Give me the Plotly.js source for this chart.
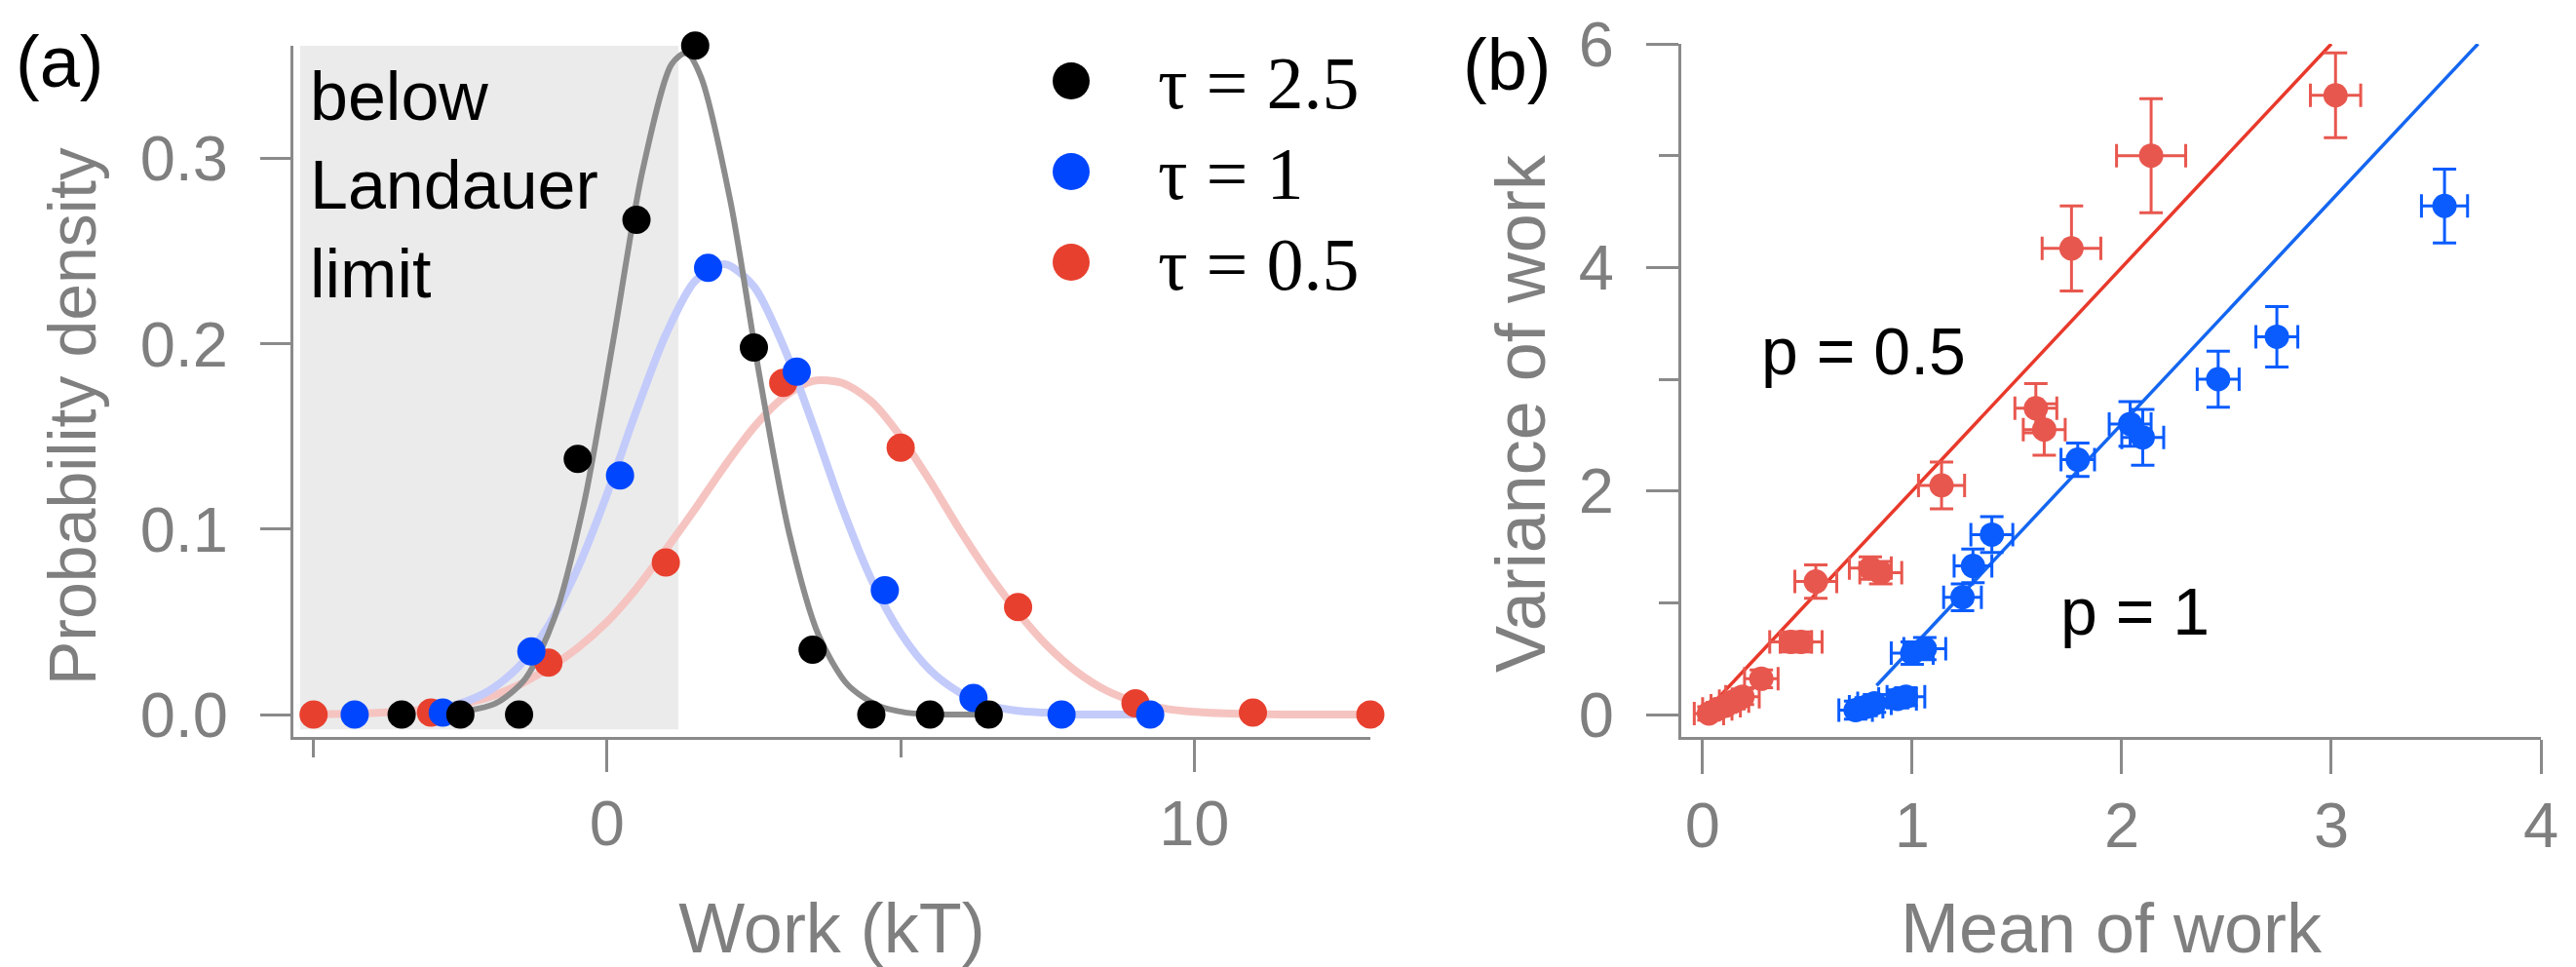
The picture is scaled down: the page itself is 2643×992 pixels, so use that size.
<!DOCTYPE html>
<html>
<head>
<meta charset="utf-8">
<script src="https://cdn.plot.ly/plotly-3.0.1.min.js"></script>
<style>html,body{margin:0;padding:0;background:#fff;}#chart{width:2643px;height:992px;}</style>
</head>
<body>
<div id="chart"></div>
<script>
// ---------- Panel (a): work distributions ----------
const blackX = [-3.5, -2.5, -1.5, -0.5, 0.5, 1.5, 2.5, 3.5, 4.5, 5.5, 6.5];
const blackY = [0, 0, 0, 0.138, 0.267, 0.361, 0.198, 0.035, 0, 0, 0];
const blueX = [-4.3, -2.8, -1.29, 0.22, 1.72, 3.23, 4.73, 6.24, 7.74, 9.25];
const blueY = [0, 0.001, 0.034, 0.129, 0.241, 0.185, 0.067, 0.009, 0, 0];
const redX = [-5, -3, -1, 1, 3, 5, 7, 9, 11, 13];
const redY = [0, 0.001, 0.028, 0.082, 0.179, 0.144, 0.058, 0.006, 0.001, 0];

const curveBlackX = [-2.4, -1.9, -1.4, -0.9, -0.4, 0.1, 0.6, 1.1, 1.35, 1.6, 2.1, 2.6, 3.1, 3.6, 4.1, 4.6, 5.1, 5.6, 6.1, 6.5];
const curveBlackY = [0.002, 0.006, 0.019, 0.052, 0.113, 0.201, 0.293, 0.351, 0.357, 0.344, 0.277, 0.182, 0.098, 0.043, 0.016, 0.005, 0.001, 0, 0, 0];
const curveBlueX = [-2.8, -2.5, -2, -1.5, -1, -0.5, 0, 0.5, 1, 1.5, 2, 2.5, 3, 3.5, 4, 4.5, 5, 5.5, 6, 6.5, 7, 7.5, 8, 8.5, 9.25];
const curveBlueY = [0.004, 0.006, 0.013, 0.026, 0.048, 0.079, 0.119, 0.164, 0.205, 0.234, 0.243, 0.231, 0.199, 0.157, 0.112, 0.073, 0.044, 0.024, 0.012, 0.005, 0.002, 0.001, 0, 0, 0];
const curveRedX = [-5, -4, -3, -2.5, -2, -1.5, -1, -0.5, 0, 0.5, 1, 1.5, 2, 2.5, 3, 3.5, 4, 4.5, 5, 5.5, 6, 6.5, 7, 7.5, 8, 8.5, 9, 9.5, 10, 10.5, 11, 12, 13];
const curveRedY = [0.0001, 0.0008, 0.003, 0.0055, 0.0095, 0.016, 0.025, 0.036, 0.05, 0.068, 0.089, 0.111, 0.134, 0.155, 0.171, 0.18, 0.179, 0.169, 0.15, 0.126, 0.1, 0.076, 0.055, 0.037, 0.023, 0.013, 0.0068, 0.0032, 0.0014, 0.0006, 0.0002, 0, 0];

const legendLabels = ["τ = 2.5", "τ = 1", "τ = 0.5"];
const landauerEdge = 1.215;

// ---------- Panel (b): variance vs mean ----------
const redMean = [0.03, 0.07, 0.11, 0.15, 0.19, 0.28, 0.42, 0.47, 0.54, 0.80, 0.85, 1.14, 1.59, 1.63, 1.76, 2.14, 3.02];
const redVar  = [0.01, 0.05, 0.08, 0.12, 0.16, 0.32, 0.65, 0.65, 1.19, 1.31, 1.27, 2.05, 2.74, 2.55, 4.17, 5.00, 5.54];
const redMeanErr = [0.07, 0.07, 0.07, 0.07, 0.08, 0.08, 0.1, 0.1, 0.1, 0.1, 0.1, 0.11, 0.1, 0.1, 0.14, 0.165, 0.12];
const redVarErr  = [0.06, 0.06, 0.06, 0.07, 0.07, 0.08, 0.09, 0.09, 0.15, 0.1, 0.1, 0.21, 0.22, 0.23, 0.38, 0.51, 0.38];

const blueMean = [0.73, 0.78, 0.82, 0.93, 0.97, 1.00, 1.06, 1.24, 1.29, 1.38, 1.79, 2.04, 2.10, 2.46, 2.74, 3.54];
const blueVar  = [0.04, 0.07, 0.10, 0.14, 0.16, 0.55, 0.59, 1.05, 1.33, 1.61, 2.28, 2.60, 2.48, 3.00, 3.38, 4.55];
const blueMeanErr = [0.08, 0.08, 0.08, 0.09, 0.09, 0.1, 0.1, 0.09, 0.09, 0.1, 0.08, 0.1, 0.1, 0.1, 0.1, 0.11];
const blueVarErr  = [0.08, 0.08, 0.08, 0.08, 0.08, 0.1, 0.1, 0.12, 0.15, 0.16, 0.15, 0.2, 0.25, 0.25, 0.27, 0.33];

const fitRedX = [0, 3.0];
const fitRedY = [0, 6.0];
const fitBlueX = [0.83, 3.7];
const fitBlueY = [0.26, 6.0];

// ---------- styling ----------
const W = 2643, H = 992;
const SANS = "Liberation Sans, Arial, sans-serif";
const AXC = "#8a8a8a";
const TXC = "#7f7f7f";
const C_BLACK = "#000000", C_BLUE = "#0046ff", C_RED = "#e8402f";
const C_RED_B = "#e8574e", C_BLUE_B = "#0a5cff";

function px(x) { return x / W; }
function py(y) { return 1 - y / H; }

const traces = [
  {x: curveRedX, y: curveRedY, xaxis: "x", yaxis: "y", mode: "lines", line: {color: "#f5c4c1", width: 8, shape: "spline", smoothing: 0.8}, hoverinfo: "skip"},
  {x: curveBlueX, y: curveBlueY, xaxis: "x", yaxis: "y", mode: "lines", line: {color: "#c3cbfb", width: 8, shape: "spline", smoothing: 0.8}, hoverinfo: "skip"},
  {x: curveBlackX, y: curveBlackY, xaxis: "x", yaxis: "y", mode: "lines", line: {color: "#8c8c8c", width: 6, shape: "spline", smoothing: 0.8}, hoverinfo: "skip"},
  {x: redX, y: redY, xaxis: "x", yaxis: "y", mode: "markers", name: legendLabels[2], marker: {color: C_RED, size: 29}, cliponaxis: false},
  {x: blueX, y: blueY, xaxis: "x", yaxis: "y", mode: "markers", name: legendLabels[1], marker: {color: C_BLUE, size: 29}, cliponaxis: false},
  {x: blackX, y: blackY, xaxis: "x", yaxis: "y", mode: "markers", name: legendLabels[0], marker: {color: C_BLACK, size: 29}, cliponaxis: false},

  {x: fitRedX, y: fitRedY, xaxis: "x2", yaxis: "y2", mode: "lines", line: {color: "#e8392b", width: 3.5}, hoverinfo: "skip"},
  {x: fitBlueX, y: fitBlueY, xaxis: "x2", yaxis: "y2", mode: "lines", line: {color: "#1466f0", width: 3.5}, hoverinfo: "skip"},
  {x: redMean, y: redVar, xaxis: "x2", yaxis: "y2", mode: "markers", name: "p = 0.5",
   marker: {color: C_RED_B, size: 25},
   error_x: {type: "data", array: redMeanErr, visible: true, color: C_RED_B, thickness: 3, width: 12},
   error_y: {type: "data", array: redVarErr, visible: true, color: C_RED_B, thickness: 3, width: 12}, cliponaxis: false},
  {x: blueMean, y: blueVar, xaxis: "x2", yaxis: "y2", mode: "markers", name: "p = 1",
   marker: {color: C_BLUE_B, size: 25},
   error_x: {type: "data", array: blueMeanErr, visible: true, color: C_BLUE_B, thickness: 3, width: 12},
   error_y: {type: "data", array: blueVarErr, visible: true, color: C_BLUE_B, thickness: 3, width: 12}, cliponaxis: false}
];

const tickFont = {family: SANS, size: 65, color: TXC};
const titleFont = {family: SANS, size: 72, color: TXC};

const axBase = {
  showline: true, linecolor: AXC, linewidth: 3, mirror: false,
  ticks: "outside", tickcolor: AXC, tickwidth: 3,
  showgrid: false, zeroline: false, tickfont: tickFont, fixedrange: true
};

const legendColors = [C_BLACK, C_BLUE, C_RED];
const legendY = [83, 176, 269];

const shapes = [
  {type: "rect", xref: "x", yref: "y", x0: -5.23, x1: landauerEdge, y0: -0.008, y1: 0.361,
   fillcolor: "#ebebeb", line: {width: 0}, layer: "below"}
];
legendColors.forEach((c, i) => {
  shapes.push({type: "circle", xref: "paper", yref: "paper", xsizemode: "pixel", ysizemode: "pixel",
    xanchor: px(1099), yanchor: py(legendY[i]), x0: -19, x1: 19, y0: -19, y1: 19,
    fillcolor: c, line: {width: 0}});
});

const annotations = [
  {xref: "paper", yref: "paper", x: px(14), y: py(64), xanchor: "left", yanchor: "middle", showarrow: false,
   text: "(a)", font: {family: SANS, size: 74, color: "#000"}},
  {xref: "paper", yref: "paper", x: px(1499), y: py(66), xanchor: "left", yanchor: "middle", showarrow: false,
   text: "(b)", font: {family: SANS, size: 74, color: "#000"}},
  {xref: "paper", yref: "paper", x: px(316), y: py(190), xanchor: "left", yanchor: "middle", showarrow: false, align: "left",
   text: "below<br>Landauer<br>limit", font: {family: SANS, size: 70, color: "#000"}},
  {xref: "paper", yref: "paper", x: px(1912), y: py(360), xanchor: "center", yanchor: "middle", showarrow: false,
   text: "p = 0.5", font: {family: SANS, size: 68, color: "#000"}},
  {xref: "paper", yref: "paper", x: px(2190), y: py(627), xanchor: "center", yanchor: "middle", showarrow: false,
   text: "p = 1", font: {family: SANS, size: 68, color: "#000"}},
  // vertical axis titles
  {xref: "paper", yref: "paper", x: px(74), y: py(427), xanchor: "center", yanchor: "middle", showarrow: false,
   textangle: -90, text: "Probability density", font: {family: SANS, size: 68, color: TXC}},
  {xref: "paper", yref: "paper", x: px(1560), y: py(424), xanchor: "center", yanchor: "middle", showarrow: false,
   textangle: -90, text: "Variance of work", font: {family: SANS, size: 72, color: TXC}}
];
legendLabels.forEach((t, i) => {
  annotations.push({xref: "paper", yref: "paper", x: px(1186), y: py(legendY[i] + 2), xanchor: "left", yanchor: "middle",
    showarrow: false, text: t, font: {family: "Liberation Serif, Times New Roman, serif", size: 76, color: "#000"}});
});

const layout = {
  width: W, height: H,
  margin: {l: 0, r: 0, t: 0, b: 0},
  paper_bgcolor: "#fff", plot_bgcolor: "rgba(0,0,0,0)",
  showlegend: false,
  xaxis: Object.assign({}, axBase, {
    domain: [px(301), px(1406)], range: [-5.344, 13.0], anchor: "y",
    tickvals: [0, 10], ticktext: ["0", "10"], ticklen: 33, ticklabelstandoff: -3,
    minor: {tickvals: [-5, 5], ticks: "outside", ticklen: 18, tickwidth: 3, tickcolor: AXC, showgrid: false},
    title: {text: "Work (kT)", font: titleFont, standoff: 50}
  }),
  yaxis: Object.assign({}, axBase, {
    domain: [py(756), py(46.7)], range: [-0.0121, 0.361], anchor: "x",
    tickvals: [0, 0.1, 0.2, 0.3], ticktext: ["0.0", "0.1", "0.2", "0.3"], ticklen: 31, ticklabelstandoff: 20
  }),
  xaxis2: Object.assign({}, axBase, {
    domain: [px(1725), px(2607)], range: [-0.102, 4.0], anchor: "y2",
    tickvals: [0, 1, 2, 3, 4], ticktext: ["0", "1", "2", "3", "4"], ticklen: 35, ticklabelstandoff: -3,
    title: {text: "Mean of work", font: titleFont, standoff: 50}
  }),
  yaxis2: Object.assign({}, axBase, {
    domain: [py(756), py(45)], range: [-0.2, 6.0], anchor: "x2",
    tickvals: [0, 2, 4, 6], ticktext: ["0", "2", "4", "6"], ticklen: 33, ticklabelstandoff: 20,
    minor: {tickvals: [1, 3, 5], ticks: "outside", ticklen: 20, tickwidth: 3, tickcolor: AXC, showgrid: false}
  }),
  shapes: shapes,
  annotations: annotations
};

Plotly.newPlot("chart", traces, layout, {staticPlot: true, displayModeBar: false});
</script>
</body>
</html>
